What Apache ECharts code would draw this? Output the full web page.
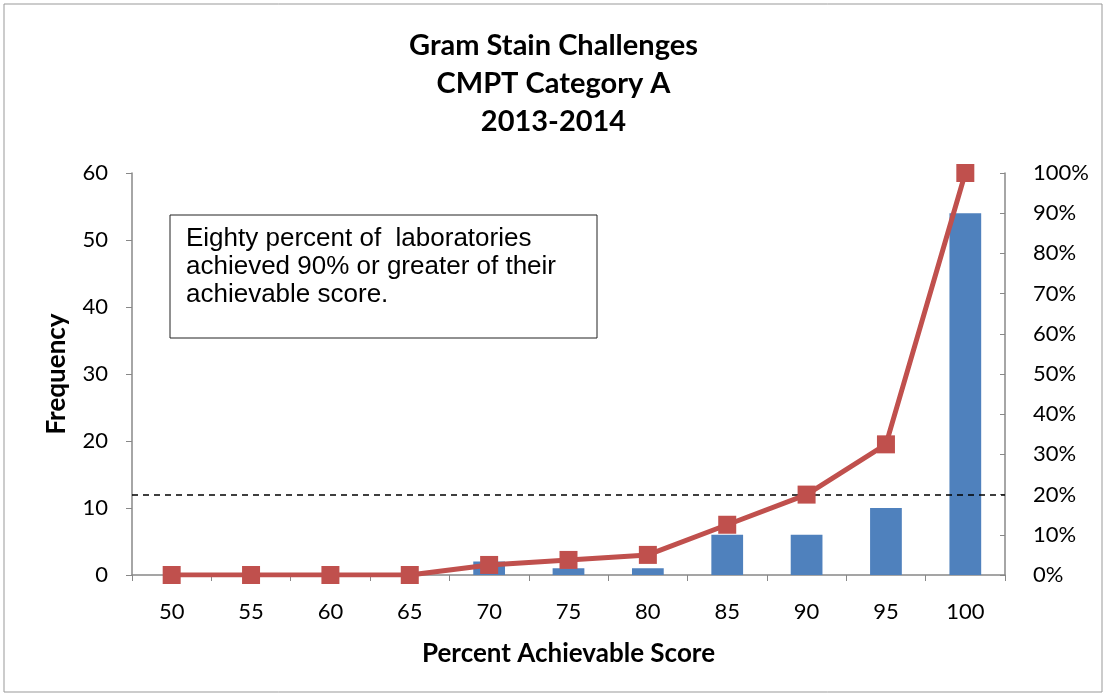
<!DOCTYPE html>
<html>
<head>
<meta charset="utf-8">
<script src="https://cdn.jsdelivr.net/npm/echarts@6/dist/echarts.min.js"></script>
<style>
  html, body { margin: 0; padding: 0; background: #fff; }
  #chart { width: 1107px; height: 697px; }
</style>
</head>
<body>
<div id="chart"></div>
<script>
// categories (percent achievable score)
const scores = ['50', '55', '60', '65', '70', '75', '80', '85', '90', '95', '100'];
// frequency of labs per score
const frequency = [0, 0, 0, 0, 2, 1, 1, 6, 6, 10, 54];
// cumulative percent
const cumulative = [0, 0, 0, 0, 2.5, 3.75, 5, 12.5, 20, 32.5, 100];
const freqTicks = [0, 10, 20, 30, 40, 50, 60];
const referenceLevel = 20;

const font = 'Lato, "Open Sans", "Liberation Sans", sans-serif';

const chart = echarts.init(document.getElementById('chart'));

// 图表配置
const option = {
    animation: false,
    title: {
        text: 'Gram Stain Challenges\nCMPT Category A\n2013-2014',
        left: 'center',
        top: 22,
        textStyle: {
            fontFamily: font,
            fontWeight: 'bold',
            fontSize: 29,
            lineHeight: 38,
            color: '#000'
        }
    },
    grid: { left: 132, right: 102, top: 173, bottom: 122 },
    xAxis: {
        type: 'category',
        data: scores,
        name: 'Percent Achievable Score',
        nameLocation: 'middle',
        nameGap: 66,
        nameTextStyle: { fontFamily: font, fontWeight: 'bold', fontSize: 26, color: '#000' },
        axisLine: { lineStyle: { color: '#888', width: 1.5 } },
        axisTick: { show: true, length: 6, lineStyle: { color: '#888' } },
        axisLabel: { fontFamily: font, fontSize: 22, color: '#000', margin: 26 }
    },
    yAxis: [
        {
            type: 'value',
            min: freqTicks[0],
            max: freqTicks[freqTicks.length - 1],
            interval: 10,
            name: 'Frequency',
            nameLocation: 'middle',
            nameGap: 62,
            nameRotate: 90,
            nameTextStyle: { fontFamily: font, fontWeight: 'bold', fontSize: 26, color: '#000' },
            axisLine: { show: true, lineStyle: { color: '#888', width: 1.5 } },
            axisTick: { show: true, length: 6, lineStyle: { color: '#888' } },
            axisLabel: { fontFamily: font, fontSize: 22, color: '#000', margin: 24 },
            splitLine: { show: false }
        },
        {
            type: 'value',
            min: 0,
            max: 100,
            interval: 10,
            position: 'right',
            axisLine: { show: true, lineStyle: { color: '#888', width: 1.5 } },
            axisTick: { show: true, inside: true, length: 5, lineStyle: { color: '#888' } },
            axisLabel: { fontFamily: font, fontSize: 22, color: '#000', margin: 28, formatter: '{value}%' },
            splitLine: { show: false }
        }
    ],
    graphic: [
        {
            type: 'rect',
            shape: { x: 4, y: 4, width: 1098, height: 688 },
            style: { fill: 'none', stroke: '#999', lineWidth: 1 },
            z: -1
        },
        {
            type: 'rect',
            shape: { x: 170, y: 215, width: 427, height: 123 },
            style: { fill: '#fff', stroke: '#222', lineWidth: 1 },
            z: 10
        },
        {
            type: 'text',
            left: 186,
            top: 225,
            z: 11,
            style: {
                text: 'Eighty percent of  laboratories\nachieved 90% or greater of their\nachievable score.',
                font: '26px "Liberation Sans", Arial, sans-serif',
                lineHeight: 28,
                fill: '#000'
            }
        }
    ],
    series: [
        {
            name: 'Frequency',
            type: 'bar',
            data: frequency,
            barWidth: '40%',
            itemStyle: { color: '#4F81BD' }
        },
        {
            name: 'Cumulative %',
            type: 'line',
            yAxisIndex: 1,
            data: cumulative,
            symbol: 'rect',
            symbolSize: 18,
            lineStyle: { color: '#C0504D', width: 5 },
            itemStyle: { color: '#C0504D' },
            markLine: {
                silent: true,
                symbol: 'none',
                label: { show: false },
                lineStyle: { color: '#000', type: [6, 5], width: 1.5 },
                data: [{ yAxis: referenceLevel }]
            },
            z: 5
        }
    ]
};

chart.setOption(option);
</script>
</body>
</html>
